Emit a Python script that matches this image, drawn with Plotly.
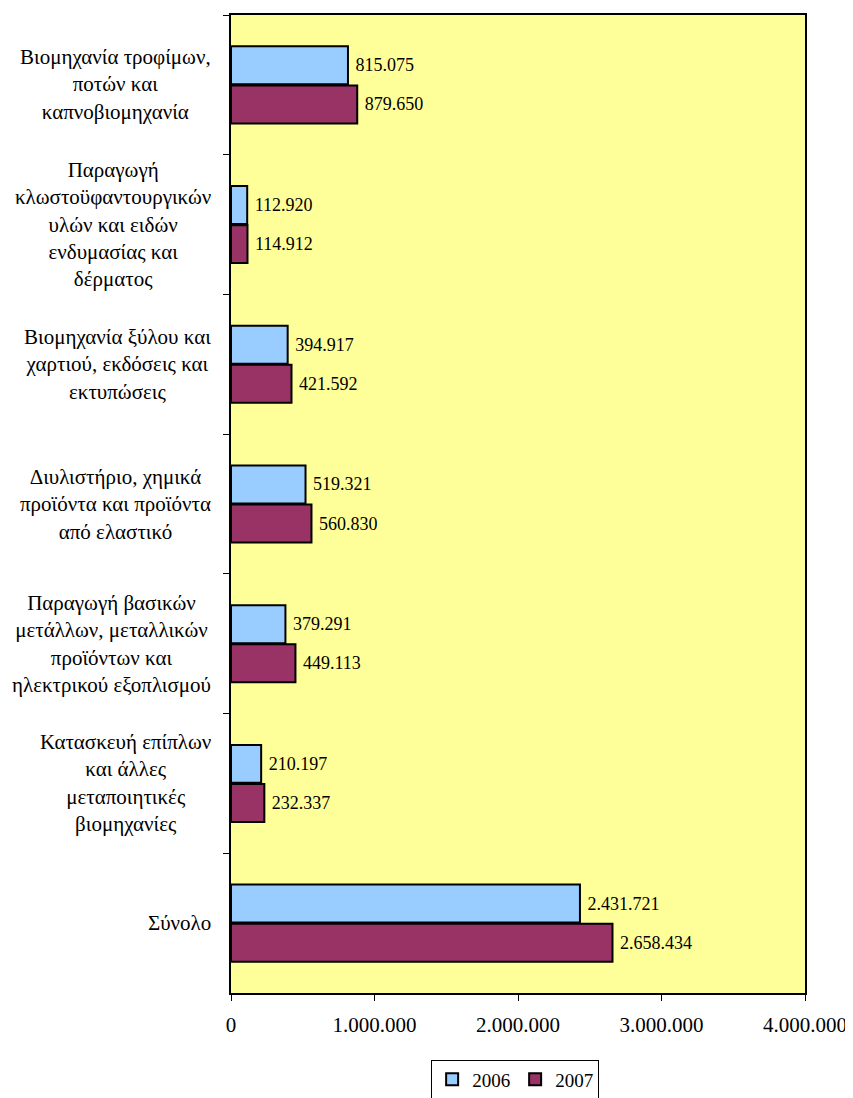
import plotly.graph_objects as go

categories = [
    "Βιομηχανία τροφίμων,<br>ποτών και<br>καπνοβιομηχανία",
    "Παραγωγή<br>κλωστοϋφαντουργικών<br>υλών και ειδών<br>ενδυμασίας και<br>δέρματος",
    "Βιομηχανία ξύλου και<br>χαρτιού, εκδόσεις και<br>εκτυπώσεις",
    "Διυλιστήριο, χημικά<br>προϊόντα και προϊόντα<br>από ελαστικό",
    "Παραγωγή βασικών<br>μετάλλων, μεταλλικών<br>προϊόντων και<br>ηλεκτρικού εξοπλισμού",
    "Κατασκευή επίπλων<br>και άλλες<br>μεταποιητικές<br>βιομηχανίες",
    "Σύνολο",
]
cat_ids = ["c1", "c2", "c3", "c4", "c5", "c6", "c7"]
v2006 = [815075, 112920, 394917, 519321, 379291, 210197, 2431721]
v2007 = [879650, 114912, 421592, 560830, 449113, 232337, 2658434]

font = "Liberation Serif"

fig = go.Figure()
fig.add_trace(go.Bar(y=cat_ids, x=v2006, orientation="h", name="2006",
                     marker=dict(color="#99CCFF", line=dict(color="black", width=2)),
                     texttemplate=" %{x:,d}", textposition="outside",
                     textfont=dict(size=18, color="black", family=font), cliponaxis=False))
fig.add_trace(go.Bar(y=cat_ids, x=v2007, orientation="h", name="2007",
                     marker=dict(color="#993366", line=dict(color="black", width=2)),
                     texttemplate=" %{x:,d}", textposition="outside",
                     textfont=dict(size=18, color="black", family=font), cliponaxis=False))

for cid, label in zip(cat_ids, categories):
    fig.add_annotation(x=-0.031, xref="paper", y=cid, yref="y", text=label,
                       xanchor="right", yanchor="middle", align="center", showarrow=False,
                       font=dict(size=21, color="black", family=font))

# page body adds an 8px margin, so the figure is 16px smaller than the window
fig.update_layout(
    width=845, height=1090,
    margin=dict(l=223, r=48, t=7, b=105, autoexpand=False),
    paper_bgcolor="white", plot_bgcolor="#FFFF99",
    barmode="group", bargap=0.44, bargroupgap=0.03,
    separators=",.",
    font=dict(family=font, size=20, color="black"),
    showlegend=True,
    legend=dict(orientation="h", x=0.495, xanchor="center", y=-0.068, yanchor="top",
                bordercolor="black", borderwidth=1, font=dict(size=19, family=font),
                itemwidth=30, traceorder="normal"),
)
fig.update_xaxes(range=[0, 4000000], dtick=1000000, tickformat=",d", automargin=False,
                 showline=True, linecolor="black", linewidth=2, mirror=True,
                 ticks="outside", ticklen=6, tickcolor="black", ticklabelstandoff=6,
                 showgrid=False, zeroline=False, tickfont=dict(size=21, family=font))
fig.update_yaxes(autorange="reversed", showticklabels=False, automargin=False,
                 showline=True, linecolor="black", linewidth=2, mirror=True,
                 ticks="outside", ticklen=6, tickcolor="black", tickson="boundaries",
                 showgrid=False)

fig.write_html("out.html")
